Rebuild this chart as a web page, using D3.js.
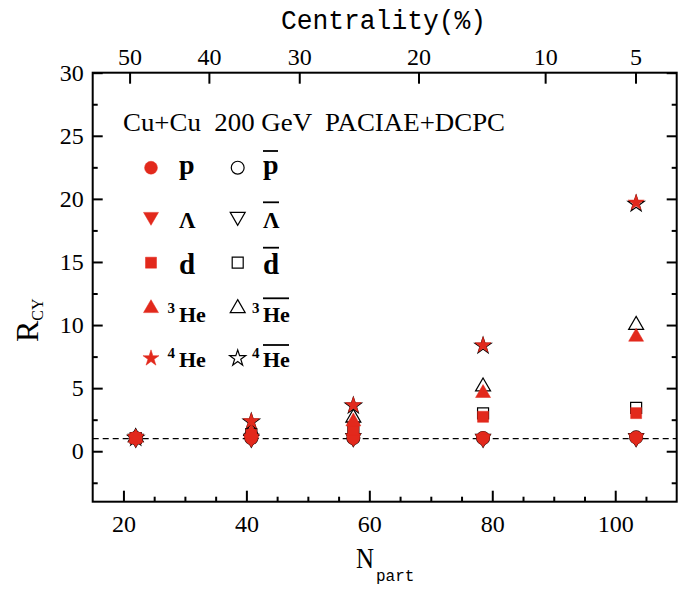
<!DOCTYPE html>
<html><head><meta charset="utf-8">
<script src="https://cdn.jsdelivr.net/npm/d3@7"></script>
<style>body{margin:0;background:#fff}</style>
</head><body>
<svg id="c" width="697" height="590" xmlns="http://www.w3.org/2000/svg"></svg>
<script>
// ---- data ----
const nPart = [22.0, 40.8, 57.4, 78.5, 103.4];
const pVals      = [1.05, 1.05, 1.05, 1.05, 1.1];
const pBarVals   = [1.05, 1.05, 1.05, 1.05, 1.1];
const lamVals    = [1.0, 1.0, 1.05, 1.0, 1.05];
const lamBarVals = [1.0, 1.0, 1.05, 1.0, 1.05];
const dVals      = [1.05, 1.3, 1.7, 2.73, 3.02];
const dBarVals   = [1.05, 1.35, 1.9, 3.0, 3.44];
const he3Vals    = [1.05, 1.45, 2.35, 4.6, 9.06];
const he3BarVals = [1.1, 1.6, 2.65, 5.12, 10.0];
const he4Vals    = [1.1, 2.38, 3.65, 8.4, 19.7];
const he4BarVals = [1.05, 2.33, 3.6, 8.35, 19.6];

const xTicks = [20, 40, 60, 80, 100];
const yTicks = [0, 5, 10, 15, 20, 25, 30];
const centralityLabels = ["50", "40", "30", "20", "10", "5"];
const centralityNpart  = [21.0, 33.9, 48.6, 68.0, 88.6, 103.3];
const refLine = 1;

// ---- layout ----
const svg = d3.select("#c");
const m = {l: 92.7, r: 676.7, t: 72.7, b: 501.7};
const x = d3.scaleLinear().domain([15, 110]).range([m.l, m.r]);
const y = d3.scaleLinear().domain([-4, 30]).range([m.b, m.t]);
const RED = "#e2291c";
const serif = "'Liberation Serif', 'Times New Roman', serif";
const mono = "'Liberation Mono', monospace";

const xMinor = d3.range(20, 110, 5).filter(v => v % 20 !== 0);
const yMinor = d3.range(-2.5, 30, 5);

function styleAxis(g) {
  g.select(".domain").remove();
  g.selectAll(".tick line").attr("stroke", "#000").attr("stroke-width", 2);
  g.selectAll("text").attr("font-family", serif).attr("font-size", 24).attr("fill", "#000");
}

// bottom
svg.append("g").attr("transform", `translate(0,${m.b})`)
  .call(d3.axisBottom(x).tickValues(xTicks).tickSize(-11).tickPadding(13).tickFormat(d3.format("d")))
  .call(styleAxis);
svg.append("g").attr("transform", `translate(0,${m.b})`)
  .call(d3.axisBottom(x).tickValues(xMinor).tickSize(-5).tickFormat(""))
  .call(styleAxis);
// left
svg.append("g").attr("transform", `translate(${m.l},0)`)
  .call(d3.axisLeft(y).tickValues(yTicks).tickSize(-10).tickPadding(9).tickFormat(d3.format("d")))
  .call(styleAxis);
svg.append("g").attr("transform", `translate(${m.l},0)`)
  .call(d3.axisLeft(y).tickValues(yMinor).tickSize(-5).tickFormat(""))
  .call(styleAxis);
// right
svg.append("g").attr("transform", `translate(${m.r},0)`)
  .call(d3.axisRight(y).tickValues(yTicks).tickSize(-10).tickFormat(""))
  .call(styleAxis);
svg.append("g").attr("transform", `translate(${m.r},0)`)
  .call(d3.axisRight(y).tickValues(yMinor).tickSize(-5).tickFormat(""))
  .call(styleAxis);
// top (centrality)
svg.append("g").attr("transform", `translate(0,${m.t})`)
  .call(d3.axisTop(x).tickValues(centralityNpart).tickSize(-11).tickPadding(8)
        .tickFormat((d, i) => centralityLabels[i]))
  .call(styleAxis);

// frame
svg.append("rect").attr("x", m.l).attr("y", m.t).attr("width", m.r - m.l).attr("height", m.b - m.t)
  .attr("fill", "none").attr("stroke", "#000").attr("stroke-width", 2);

// reference dashed line
svg.append("line").attr("x1", m.l).attr("x2", m.r).attr("y1", y(refLine)).attr("y2", y(refLine))
  .attr("stroke", "#000").attr("stroke-width", 1.3).attr("stroke-dasharray", "6,4");

// symbols
const sym = {
  circle: {type: d3.symbolCircle, size: 130, rot: 0},
  triDown: {type: d3.symbolTriangle, size: 97, rot: 180},
  square: {type: d3.symbolSquare, size: 121, rot: 0},
  triUp: {type: d3.symbolTriangle, size: 97, rot: 0},
  star: {type: d3.symbolStar, size: 80, rot: 0}
};
function drawMarker(g, s, cx, cy, open) {
  g.append("path")
    .attr("d", d3.symbol().type(s.type).size(s.size)())
    .attr("transform", `translate(${cx},${cy}) rotate(${s.rot})`)
    .attr("fill", open ? "none" : RED)
    .attr("stroke", open ? "#000" : RED)
    .attr("stroke-width", open ? 1.2 : 0.5);
}

const series = [
  {vals: pBarVals, s: sym.circle, open: true},
  {vals: lamBarVals, s: sym.triDown, open: true},
  {vals: dBarVals, s: sym.square, open: true},
  {vals: he3BarVals, s: sym.triUp, open: true},
  {vals: he4BarVals, s: sym.star, open: true},
  {vals: pVals, s: sym.circle, open: false},
  {vals: lamVals, s: sym.triDown, open: false},
  {vals: dVals, s: sym.square, open: false},
  {vals: he3Vals, s: sym.triUp, open: false},
  {vals: he4Vals, s: sym.star, open: false}
];
const gData = svg.append("g");
series.forEach(sr => {
  sr.vals.forEach((v, i) => drawMarker(gData, sr.s, x(nPart[i]), y(v), sr.open));
});

// ---- annotation text ----
svg.append("text").attr("x", 123).attr("y", 131)
  .attr("font-family", serif).attr("font-size", 26).attr("fill", "#000")
  .attr("textLength", 382).attr("lengthAdjust", "spacingAndGlyphs")
  .attr("xml:space", "preserve").style("white-space", "pre")
  .text("Cu+Cu  200 GeV  PACIAE+DCPC");

// ---- legend ----
const leg = svg.append("g").attr("font-family", serif).attr("font-weight", "bold").attr("fill", "#000");
const legRows = [
  {s: sym.circle, y: 167.7, label: "p", fs: 28, base: 174, ob: 151, ow: 15},
  {s: sym.triDown, y: 216.7, label: "Λ", fs: 23, base: 227.5, ob: 202.3, ow: 16},
  {s: sym.square, y: 262.7, label: "d", fs: 29, base: 273.5, ob: 247.7, ow: 16},
  {s: sym.triUp, y: 308.3, label: "He", sup: "3", fs: 22, base: 321.7, ob: 298.3, ow: 26},
  {s: sym.star, y: 358.3, label: "He", sup: "4", fs: 22, base: 367, ob: 345, ow: 26}
];
legRows.forEach(r => {
  drawMarker(leg, r.s, 151, r.y, false);
  drawMarker(leg, r.s, 237.7, r.y, true);
  [[179, 167.5, false], [263, 252, true]].forEach(([tx, sx, anti]) => {
    leg.append("text").attr("x", tx).attr("y", r.base).attr("font-size", r.fs).text(r.label);
    if (r.sup) leg.append("text").attr("x", sx).attr("y", r.base - 9).attr("font-size", 15).text(r.sup);
    if (anti) leg.append("line").attr("x1", tx).attr("x2", tx + r.ow).attr("y1", r.ob).attr("y2", r.ob)
      .attr("stroke", "#000").attr("stroke-width", 1.8);
  });
});

// ---- axis titles ----
svg.append("text").attr("x", 281).attr("y", 29).attr("font-family", mono).attr("font-size", 27)
  .attr("textLength", 205).attr("lengthAdjust", "spacingAndGlyphs").text("Centrality(%)");

const xl = svg.append("text").attr("x", 356).attr("y", 568).attr("font-family", serif).attr("font-size", 30);
xl.append("tspan").attr("textLength", 18).attr("lengthAdjust", "spacingAndGlyphs").text("N");
xl.append("tspan").attr("x", 376).attr("y", 581).attr("font-family", mono).attr("font-size", 16).text("part");

const yl = svg.append("text").attr("transform", "translate(37.5,342) rotate(-90)")
  .attr("font-family", serif).attr("font-size", 32);
yl.append("tspan").text("R");
yl.append("tspan").attr("dy", 5).attr("font-size", 16).text("CY");
</script>
</body></html>
